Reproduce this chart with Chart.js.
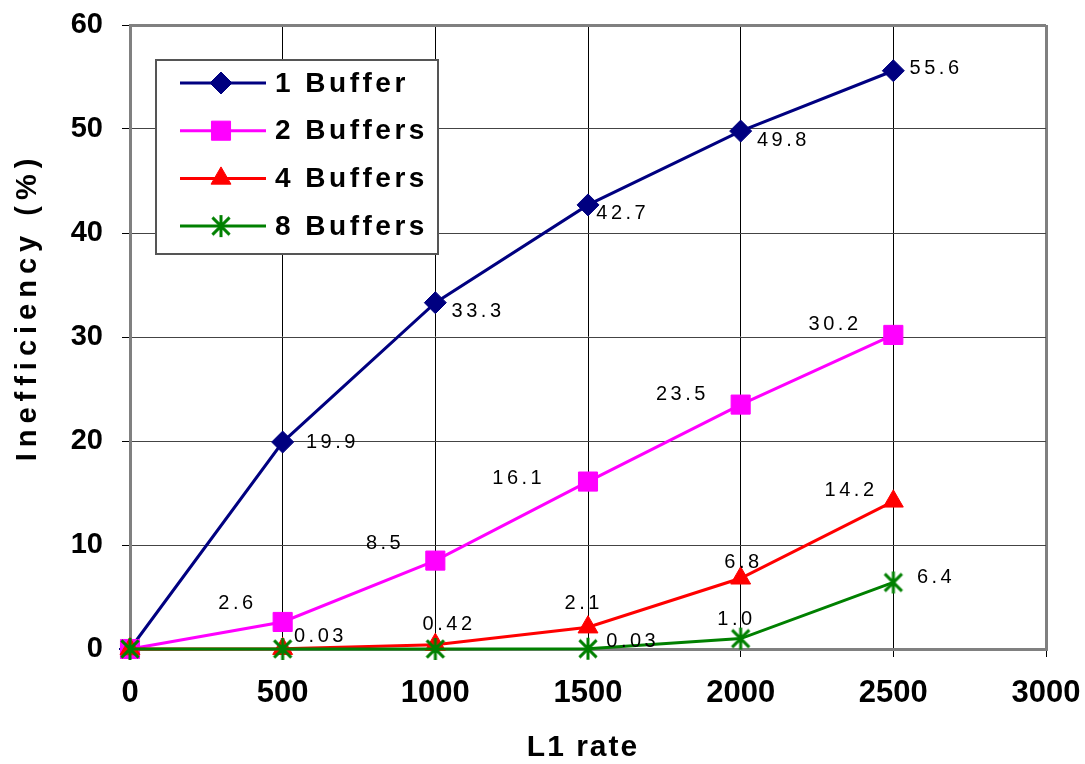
<!DOCTYPE html>
<html>
<head>
<meta charset="utf-8">
<title>Inefficiency vs L1 rate</title>
<script src="https://cdn.jsdelivr.net/npm/chart.js@4/dist/chart.umd.min.js"></script>
<style>
  html, body { margin: 0; padding: 0; background: #ffffff; }
  #wrap { width: 1085px; height: 764px; }
</style>
</head>
<body>
<div id="wrap"><canvas id="chart" width="1085" height="764"></canvas></div>
<script>
// L1 trigger rate (x) and inefficiency in percent for each buffer depth
const rates = [0, 500, 1000, 1500, 2000, 2500];
const oneBuffer = [0, 19.9, 33.3, 42.7, 49.8, 55.6];
const twoBuffers = [0, 2.6, 8.5, 16.1, 23.5, 30.2];
const fourBuffers = [0, 0.03, 0.42, 2.1, 6.8, 14.2];
const eightBuffers = [0, 0, 0, 0.03, 1.0, 6.4];
const seriesNames = ['1 Buffer', '2 Buffers', '4 Buffers', '8 Buffers'];

// axis ranges
const xRange = { min: 0, max: 3000, step: 500 };
const yRange = { min: 0, max: 60, step: 10 };
const xTitle = 'L1 rate';
const yTitle = 'Inefficiency (%)';

// where each value label sits relative to its point (dx, dy of the label centre); null = no label
const labelOffsets = [
  [null, [48, 0], [41, 9], [33, 9], [41, 9], [41, -2]],
  [null, [-47, -18], [-52, -17], [-71, -3], [-60, -10], [-60, -10]],
  [null, [36, -12], [12, -20], [-6, -24], [1, -16], [-44, -11]],
  [null, null, null, [43, -7], [-6, -19], [41, -5]]
];

const FONT = '"Liberation Sans", Arial, Helvetica, sans-serif';

// asterisk marker: vertical bar plus an X
function makeAsterisk(color, size, lw) {
  const c = document.createElement('canvas');
  c.width = size; c.height = size;
  const g = c.getContext('2d');
  g.strokeStyle = color; g.lineWidth = lw;
  const m = size / 2, r = size / 2 - 1, d = r * 0.78;
  g.beginPath();
  g.moveTo(m, m - r); g.lineTo(m, m + r);
  g.moveTo(m - d, m - d); g.lineTo(m + d, m + d);
  g.moveTo(m + d, m - d); g.lineTo(m - d, m + d);
  g.stroke();
  return c;
}

function toPoints(values) {
  return rates.map((x, i) => ({ x: x, y: values[i] }));
}

function series(label, values, color, style, radius, order) {
  return {
    label: label,
    data: toPoints(values),
    borderColor: color,
    backgroundColor: color,
    borderWidth: 3,
    pointStyle: style,
    pointRadius: radius,
    pointHoverRadius: radius,
    pointBackgroundColor: color,
    pointBorderColor: color,
    pointBorderWidth: 1,
    tension: 0,
    clip: false,
    order: order
  };
}

const datasets = [
  series(seriesNames[0], oneBuffer, '#000080', 'rectRot', 11, 4),
  series(seriesNames[1], twoBuffers, '#FF00FF', 'rect', 13.5, 3),
  series(seriesNames[2], fourBuffers, '#FF0000', 'triangle', 11.5, 2),
  series(seriesNames[3], eightBuffers, '#008000', makeAsterisk('#008000', 24, 3), 12, 1)
];

// text with extra space between characters
function spacedText(ctx, text, x, y, spacing, align) {
  const chars = Array.from(text);
  const widths = chars.map(c => ctx.measureText(c).width);
  const total = widths.reduce((a, b) => a + b, 0) + spacing * (chars.length - 1);
  let cx = align === 'center' ? x - total / 2 : (align === 'right' ? x - total : x);
  ctx.textAlign = 'left';
  chars.forEach((c, i) => { ctx.fillText(c, cx, y); cx += widths[i] + spacing; });
}

function formatValue(v) {
  return v < 1 ? v.toFixed(2) : v.toFixed(1);
}

// value labels next to the markers
const valueLabels = {
  id: 'valueLabels',
  afterDatasetsDraw(chart) {
    const ctx = chart.ctx;
    ctx.save();
    ctx.font = '20px ' + FONT;
    ctx.fillStyle = '#000000';
    ctx.textBaseline = 'middle';
    chart.data.datasets.forEach((ds, i) => {
      const meta = chart.getDatasetMeta(i);
      ds.data.forEach((pt, j) => {
        const off = labelOffsets[i][j];
        if (!off) return;
        const el = meta.data[j];
        spacedText(ctx, formatValue(pt.y), el.x + off[0], el.y + off[1], 3.5, 'center');
      });
    });
    ctx.restore();
  }
};

// boxed legend inside the plot area, line + marker for each series
const boxedLegend = {
  id: 'boxedLegend',
  afterDraw(chart) {
    const ctx = chart.ctx;
    const area = chart.chartArea;
    const bx = area.left + 26, by = area.top + 35, bw = 282, bh = 194;
    ctx.save();
    ctx.fillStyle = '#ffffff';
    ctx.fillRect(bx, by, bw, bh);
    ctx.strokeStyle = '#555555';
    ctx.lineWidth = 2;
    ctx.strokeRect(bx, by, bw, bh);
    const rowGap = 47.7;
    chart.data.datasets.forEach((ds, i) => {
      const y = by + 23 + i * rowGap;
      ctx.strokeStyle = ds.borderColor;
      ctx.lineWidth = 3;
      ctx.beginPath();
      ctx.moveTo(bx + 24, y);
      ctx.lineTo(bx + 110, y);
      ctx.stroke();
      ctx.fillStyle = ds.pointBackgroundColor;
      ctx.strokeStyle = ds.pointBorderColor;
      ctx.lineWidth = ds.pointBorderWidth;
      Chart.helpers.drawPoint(ctx, {
        pointStyle: ds.pointStyle, radius: ds.pointRadius, rotation: 0,
        borderWidth: ds.pointBorderWidth
      }, bx + 65, y);
      ctx.fillStyle = '#000000';
      ctx.font = 'bold 28px ' + FONT;
      ctx.textBaseline = 'middle';
      spacedText(ctx, ds.label, bx + 119, y + 1, 3.5, 'left');
    });
    ctx.restore();
  }
};

// axis titles, letter-spaced
const axisTitles = {
  id: 'axisTitles',
  afterDraw(chart) {
    const ctx = chart.ctx;
    const area = chart.chartArea;
    ctx.save();
    ctx.fillStyle = '#000000';
    ctx.textBaseline = 'middle';
    ctx.font = 'bold 30px ' + FONT;
    spacedText(ctx, xTitle, (area.left + area.right) / 2 - 6, 748, 2, 'center');
    ctx.translate(28, (area.top + area.bottom) / 2 - 27);
    ctx.rotate(-Math.PI / 2);
    ctx.font = 'bold 29px ' + FONT;
    spacedText(ctx, yTitle, 0, 0, 6, 'center');
    ctx.restore();
  }
};

const frameGray = '#808080';
const isEdge = (c, r) => c.tick && (c.tick.value === r.max || c.tick.value === r.min);

new Chart(document.getElementById('chart'), {
  type: 'line',
  data: { datasets: datasets },
  options: {
    responsive: false,
    animation: false,
    devicePixelRatio: 1,
    layout: { padding: { top: 25, right: 39, left: 0, bottom: 0 } },
    plugins: {
      legend: { display: false },
      tooltip: { enabled: false },
      title: { display: false }
    },
    scales: {
      x: {
        type: 'linear',
        min: xRange.min,
        max: xRange.max,
        afterFit(scale) {
          scale.height = 115;
          scale.paddingLeft = 0;
          scale.paddingRight = 0;
        },
        ticks: {
          stepSize: xRange.step,
          color: '#000000',
          padding: 18,
          maxRotation: 0,
          callback: v => String(v),
          font: { family: FONT, size: 31, weight: 'bold' }
        },
        grid: {
          color: c => isEdge(c, xRange) ? frameGray : '#000000',
          lineWidth: c => isEdge(c, xRange) ? 3 : 1,
          tickLength: 8,
          tickColor: '#000000',
          tickWidth: 1
        },
        border: { display: true, color: frameGray, width: 3 },
        title: { display: false }
      },
      y: {
        type: 'linear',
        min: yRange.min,
        max: yRange.max,
        afterFit(scale) {
          scale.width = 130;
          scale.paddingTop = 0;
          scale.paddingBottom = 0;
        },
        ticks: {
          stepSize: yRange.step,
          color: '#000000',
          padding: 19,
          callback: v => String(v),
          font: { family: FONT, size: 29, weight: 'bold' }
        },
        grid: {
          color: c => isEdge(c, yRange) ? frameGray : '#444444',
          lineWidth: c => isEdge(c, yRange) ? 3 : 1,
          tickLength: 8,
          tickColor: '#000000',
          tickWidth: 1
        },
        border: { display: true, color: frameGray, width: 3 },
        title: { display: false }
      }
    }
  },
  plugins: [valueLabels, boxedLegend, axisTitles]
});
</script>
</body>
</html>
